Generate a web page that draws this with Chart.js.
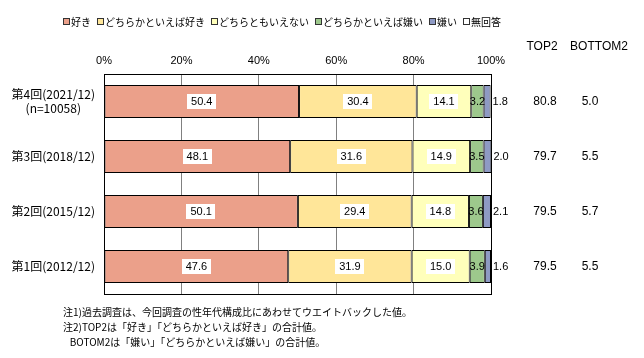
<!DOCTYPE html>
<html>
<head>
<meta charset="utf-8">
<script src="https://cdn.jsdelivr.net/npm/chart.js@4"></script>
<style>
  body { margin: 0; background: #fff; }
  #wrap { width: 644px; height: 358px; position: relative; }
</style>
</head>
<body>
<div id="wrap"><canvas id="chart1"></canvas></div>
<script>
var labels = [["第4回(2021/12)", "(n=10058)"], "第3回(2018/12)", "第2回(2015/12)", "第1回(2012/12)"];
var seriesNames = ["好き", "どちらかといえば好き", "どちらともいえない", "どちらかといえば嫌い", "嫌い", "無回答"];
var suki = [50.4, 48.1, 50.1, 47.6];
var dochiraSuki = [30.4, 31.6, 29.4, 31.9];
var dochiraMo = [14.1, 14.9, 14.8, 15.0];
var dochiraKirai = [3.2, 3.5, 3.6, 3.9];
var kirai = [1.8, 2.0, 2.1, 1.6];
var mukaito = [0.1, 0, 0, 0];
var top2 = ["80.8", "79.7", "79.5", "79.5"];
var bottom2 = ["5.0", "5.5", "5.7", "5.5"];
var xTicks = [0, 20, 40, 60, 80, 100];
var notes = [
  "注1)過去調査は、今回調査の性年代構成比にあわせてウエイトバックした値。",
  "注2)TOP2は「好き」「どちらかといえば好き」の合計値。",
  "   BOTOM2は「嫌い」「どちらかといえば嫌い」の合計値。"
];

var colors = ["#EBA08A", "#FFE699", "#FFFFBB", "#9DC88C", "#8E9AC4", "#FFFFFF"];
var seriesData = [suki, dochiraSuki, dochiraMo, dochiraKirai, kirai, mukaito];
var jpFont = '"Noto Sans CJK JP", sans-serif';

// labels, frame, legend, TOP2 columns and notes
var extras = {
  id: "extras",
  afterDatasetsDraw: function (chart) {
    var ctx = chart.ctx;
    var area = chart.chartArea;
    var yScale = chart.scales.y;
    ctx.save();

    // frame
    ctx.strokeStyle = "#000";
    ctx.lineWidth = 1;
    ctx.strokeRect(Math.round(area.left) + 0.5, Math.round(area.top) + 0.5,
      Math.round(area.right - area.left), Math.round(area.bottom - area.top));

    // value labels
    ctx.font = "11px 'Liberation Sans', Arial, sans-serif";
    ctx.textBaseline = "middle";
    for (var d = 0; d < 5; d++) {
      var meta = chart.getDatasetMeta(d);
      meta.data.forEach(function (bar, j) {
        var v = seriesData[d][j];
        var txt = v.toFixed(1);
        var cx = (bar.x + bar.base) / 2;
        if (d === 4) {
          ctx.textAlign = "left";
          ctx.fillStyle = "#000";
          ctx.fillText(txt, bar.x + 2, bar.y);
        } else if (v >= 10) {
          var w = ctx.measureText(txt).width + 8;
          ctx.fillStyle = "#fff";
          ctx.fillRect(Math.round(cx - w / 2), Math.round(bar.y - 8), Math.round(w), 15);
          ctx.fillStyle = "#000";
          ctx.textAlign = "center";
          ctx.fillText(txt, cx, bar.y);
        } else {
          ctx.fillStyle = "#000";
          ctx.textAlign = "center";
          ctx.fillText(txt, cx, bar.y);
        }
      });
    }

    // TOP2 / BOTTOM2
    ctx.font = "12px 'Liberation Sans', Arial, sans-serif";
    ctx.textAlign = "center";
    ctx.fillStyle = "#000";
    ctx.fillText("TOP2", 542, 47);
    ctx.fillText("BOTTOM2", 599, 47);
    for (var i = 0; i < labels.length; i++) {
      var yy = yScale.getPixelForValue(i);
      ctx.fillText(top2[i], 545, yy);
      ctx.fillText(bottom2[i], 590, yy);
    }

    // legend
    ctx.font = "10px " + jpFont;
    ctx.textAlign = "left";
    var lx = 63, ly = 22;
    for (var k = 0; k < seriesNames.length; k++) {
      ctx.fillStyle = colors[k];
      ctx.fillRect(lx, ly - 4, 7, 7);
      ctx.strokeStyle = "#333";
      ctx.strokeRect(lx + 0.5, ly - 3.5, 6, 6);
      ctx.fillStyle = "#000";
      ctx.fillText(seriesNames[k], lx + 8, ly);
      lx += 8 + ctx.measureText(seriesNames[k]).width + 6;
    }

    // notes
    ctx.font = "10px " + jpFont;
    for (var n = 0; n < notes.length; n++) {
      ctx.fillText(notes[n], 63, 312 + n * 15);
    }
    ctx.restore();
  }
};

var datasets = seriesNames.map(function (name, i) {
  return {
    label: name,
    data: seriesData[i],
    backgroundColor: colors[i],
    borderColor: "#000",
    borderWidth: i === 5 ? 0 : 1,
    borderSkipped: false,
    barPercentage: 0.6,
    categoryPercentage: 1
  };
});

new Chart(document.getElementById("chart1"), {
  type: "bar",
  data: { labels: labels, datasets: datasets },
  options: {
    indexAxis: "y",
    responsive: true,
    maintainAspectRatio: false,
    animation: false,
    layout: { padding: { left: 0, right: 153, top: 0, bottom: 64 } },
    plugins: { legend: { display: false }, tooltip: { enabled: false } },
    scales: {
      x: {
        position: "top",
        stacked: true,
        min: 0,
        max: 100,
        afterBuildTicks: function (s) { s.ticks = xTicks.map(function (v) { return { value: v }; }); },
        afterFit: function (s) { s.height = 74; },
        ticks: {
          padding: 6,
          color: "#000",
          font: { size: 11, family: "'Liberation Sans', Arial, sans-serif" },
          callback: function (v) { return v + "%"; }
        },
        grid: { color: "#808080", drawTicks: false },
        border: { display: false }
      },
      y: {
        stacked: true,
        afterFit: function (s) { s.width = 104; },
        ticks: {
          padding: 9,
          crossAlign: "center",
          color: "#000",
          font: { size: 12, family: jpFont }
        },
        grid: { display: false, drawTicks: false },
        border: { display: false }
      }
    }
  },
  plugins: [extras]
});
</script>
</body>
</html>
